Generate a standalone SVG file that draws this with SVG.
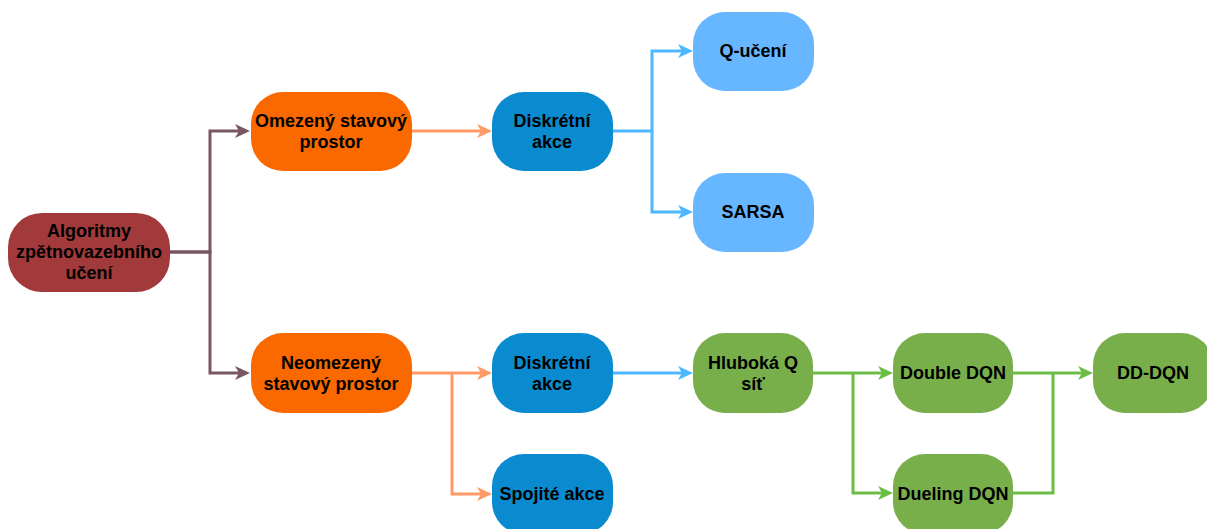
<svg xmlns="http://www.w3.org/2000/svg" width="1207" height="529" viewBox="0 0 1207 529">
  <defs>
    <style>
      .node text { font-family: "Liberation Sans", Arial, sans-serif; font-weight: bold; font-size: 18px; fill: #000; text-anchor: middle; dominant-baseline: central; }
      .root rect { fill: #A23A3B; }
      .orange rect { fill: #FA6800; }
      .blue rect { fill: #0A8BD0; }
      .light rect { fill: #66B7FF; }
      .green rect { fill: #79AF4B; }
      .edge { fill: none; stroke-width: 3; stroke-linejoin: miter; }
      .e-brown { stroke: #785860; }
      .e-orange { stroke: #FF9966; }
      .e-blue { stroke: #4DB8FF; }
      .e-green { stroke: #6BBD45; }
    </style>
    <marker id="arr-brown" markerUnits="userSpaceOnUse" markerWidth="15" markerHeight="14" viewBox="0 0 15 14" refX="5" refY="7" orient="auto">
      <path d="M0,0 L15,7 L0,14 L4,7 z" fill="#785860"/>
    </marker>
    <marker id="arr-orange" markerUnits="userSpaceOnUse" markerWidth="15" markerHeight="14" viewBox="0 0 15 14" refX="5" refY="7" orient="auto">
      <path d="M0,0 L15,7 L0,14 L4,7 z" fill="#FF9966"/>
    </marker>
    <marker id="arr-blue" markerUnits="userSpaceOnUse" markerWidth="15" markerHeight="14" viewBox="0 0 15 14" refX="5" refY="7" orient="auto">
      <path d="M0,0 L15,7 L0,14 L4,7 z" fill="#4DB8FF"/>
    </marker>
    <marker id="arr-green" markerUnits="userSpaceOnUse" markerWidth="15" markerHeight="14" viewBox="0 0 15 14" refX="5" refY="7" orient="auto">
      <path d="M0,0 L15,7 L0,14 L4,7 z" fill="#6BBD45"/>
    </marker>
  </defs>

  <rect width="1207" height="529" fill="#fff"/>

  <!-- connectors -->
  <g id="connectors">
    <path class="edge e-brown" d="M170,252 H210 V131 H240" marker-end="url(#arr-brown)"/>
    <path class="edge e-brown" d="M170,252 H210 V373 H240" marker-end="url(#arr-brown)"/>
    <path class="edge e-orange" d="M412,131 H482" marker-end="url(#arr-orange)"/>
    <path class="edge e-orange" d="M412,373 H482" marker-end="url(#arr-orange)"/>
    <path class="edge e-orange" d="M452,373 V494 H482" marker-end="url(#arr-orange)"/>
    <path class="edge e-blue" d="M613,131 H652 V51 H683" marker-end="url(#arr-blue)"/>
    <path class="edge e-blue" d="M652,131 V212 H683" marker-end="url(#arr-blue)"/>
    <path class="edge e-blue" d="M613,373 H683" marker-end="url(#arr-blue)"/>
    <path class="edge e-green" d="M813,373 H883" marker-end="url(#arr-green)"/>
    <path class="edge e-green" d="M853,373 V493 H883" marker-end="url(#arr-green)"/>
    <path class="edge e-green" d="M1013,373 H1083" marker-end="url(#arr-green)"/>
    <path class="edge e-green" d="M1013,493 H1053 V373"/>
  </g>

  <!-- nodes -->
  <g id="root" class="node root">
    <rect x="8" y="213" width="162" height="79" rx="34"/>
    <text x="89" y="231">Algoritmy</text>
    <text x="89" y="252">zpětnovazebního</text>
    <text x="89" y="273">učení</text>
  </g>
  <g id="omezeny" class="node orange">
    <rect x="251" y="92" width="161" height="79" rx="32"/>
    <text x="331" y="121">Omezený stavový</text>
    <text x="331" y="142">prostor</text>
  </g>
  <g id="neomezeny" class="node orange">
    <rect x="251" y="333" width="161" height="80" rx="32"/>
    <text x="331" y="363">Neomezený</text>
    <text x="331" y="384">stavový prostor</text>
  </g>
  <g id="diskretni-1" class="node blue">
    <rect x="492" y="92" width="121" height="79" rx="32"/>
    <text x="552" y="121">Diskrétní</text>
    <text x="552" y="142">akce</text>
  </g>
  <g id="diskretni-2" class="node blue">
    <rect x="492" y="333" width="121" height="80" rx="32"/>
    <text x="552" y="363">Diskrétní</text>
    <text x="552" y="384">akce</text>
  </g>
  <g id="spojite" class="node blue">
    <rect x="492" y="454" width="121" height="80" rx="32"/>
    <text x="552" y="494">Spojité akce</text>
  </g>
  <g id="q-uceni" class="node light">
    <rect x="693" y="12" width="121" height="79" rx="32"/>
    <text x="753" y="51">Q-učení</text>
  </g>
  <g id="sarsa" class="node light">
    <rect x="693" y="173" width="121" height="79" rx="32"/>
    <text x="753" y="212">SARSA</text>
  </g>
  <g id="hluboka" class="node green">
    <rect x="693" y="333" width="120" height="80" rx="32"/>
    <text x="753" y="363">Hluboká Q</text>
    <text x="753" y="384">síť</text>
  </g>
  <g id="double" class="node green">
    <rect x="893" y="333" width="120" height="80" rx="32"/>
    <text x="953" y="373">Double DQN</text>
  </g>
  <g id="dueling" class="node green">
    <rect x="893" y="454" width="120" height="80" rx="32"/>
    <text x="953" y="494">Dueling DQN</text>
  </g>
  <g id="dd-dqn" class="node green">
    <rect x="1093" y="333" width="120" height="80" rx="32"/>
    <text x="1153" y="373">DD-DQN</text>
  </g>
</svg>
